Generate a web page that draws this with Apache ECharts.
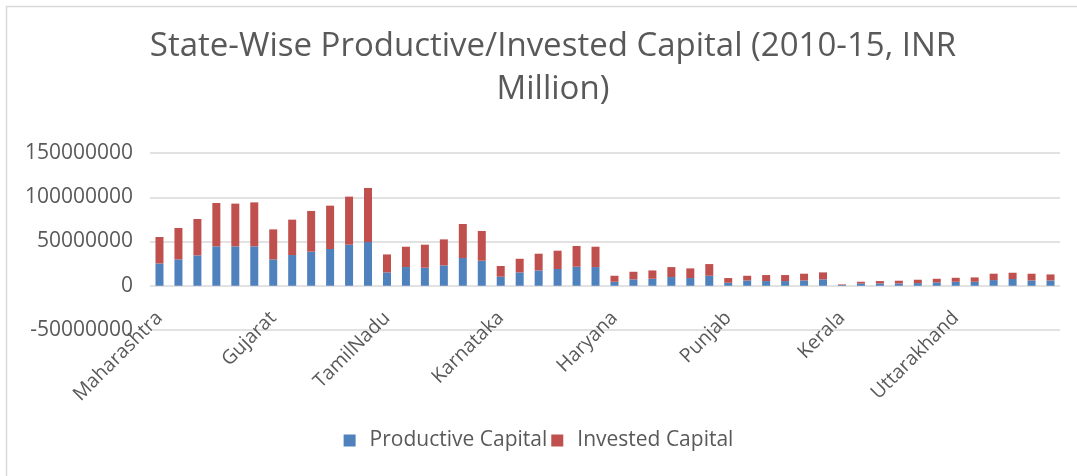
<!DOCTYPE html>
<html>
<head>
<meta charset="utf-8">
<script src="https://cdn.jsdelivr.net/npm/echarts@6/dist/echarts.min.js"></script>
<style>
html,body{margin:0;padding:0;background:#fff;}
#c{width:1077px;height:476px;}
</style>
</head>
<body>
<div id="c"></div>
<script>
const states = ["Maharashtra","Gujarat","TamilNadu","Karnataka","Haryana","Punjab","Kerala","Uttarakhand"];
const categories = [];
states.forEach(s => { for (let i = 0; i < 6; i++) categories.push(s); });

const productiveCapital = [
  25200000, 29800000, 34300000, 44500000, 44500000, 44500000,
  29800000, 34700000, 38500000, 41500000, 46400000, 49400000,
  15100000, 21100000, 20400000, 23000000, 31300000, 28300000,
  10200000, 15100000, 17300000, 18900000, 21500000, 21100000,
  4500000, 7200000, 7900000, 9800000, 8700000, 11300000,
  3400000, 6000000, 5300000, 5300000, 6000000, 7200000,
  800000, 2600000, 2600000, 2600000, 3000000, 3800000,
  4500000, 4500000, 6400000, 7600000, 6000000, 6000000
];
const investedCapital = [
  29900000, 35500000, 41100000, 49000000, 48300000, 49700000,
  33900000, 40000000, 46000000, 49000000, 54300000, 61100000,
  20300000, 23000000, 26000000, 29400000, 38500000, 33600000,
  12100000, 15400000, 18900000, 20700000, 23400000, 23000000,
  6800000, 8600000, 9400000, 11300000, 10900000, 13200000,
  5300000, 5300000, 6800000, 6800000, 7600000, 7900000,
  700000, 1900000, 2700000, 3100000, 3800000, 4100000,
  4500000, 4900000, 7200000, 7100000, 7600000, 6800000
];
const yTicks = { min: -50000000, max: 150000000, interval: 50000000 };

const chart = echarts.init(document.getElementById('c'), null, {renderer: 'canvas'});
const font = '"Open Sans", "Liberation Sans", sans-serif';
chart.setOption({
  animation: false,
  backgroundColor: '#ffffff',
  title: {
    text: 'State-Wise Productive/Invested Capital (2010-15, INR\nMillion)',
    left: 548,
    top: 20,
    textAlign: 'center',
    textStyle: { fontFamily: font, fontSize: 33, fontWeight: 'normal', color: '#595959', lineHeight: 43 }
  },
  graphic: [{
    type: 'rect', silent: true,
    shape: { x: 6.5, y: 6.5, width: 1200, height: 600 },
    style: { fill: 'none', stroke: '#d9d9d9', lineWidth: 1.5 }
  }],
  legend: {
    bottom: 20,
    left: 'center',
    itemWidth: 12, itemHeight: 12, itemGap: 4,
    icon: 'rect',
    textStyle: { fontFamily: font, fontSize: 21, color: '#595959', padding: [0, 0, 0, 9] },
    data: ['Productive Capital', 'Invested Capital']
  },
  grid: { left: 150, right: 17, top: 153, bottom: 146, containLabel: false },
  xAxis: {
    type: 'category',
    data: categories,
    axisLine: { show: false, onZero: false },
    axisTick: { show: false },
    axisLabel: {
      interval: 5, rotate: 45, margin: -15,
      fontFamily: font, fontSize: 19.5, color: '#595959'
    }
  },
  yAxis: {
    type: 'value',
    min: yTicks.min, max: yTicks.max, interval: yTicks.interval,
    axisLine: { show: false },
    axisTick: { show: false },
    splitLine: { lineStyle: { color: '#d9d9d9', width: 1.5 } },
    axisLabel: { margin: 17, fontFamily: font, fontSize: 21, color: '#595959', formatter: v => String(v) }
  },
  series: [
    { name: 'Productive Capital', type: 'bar', stack: 'cap', data: productiveCapital, barWidth: 8, itemStyle: { color: '#4F81BD' } },
    { name: 'Invested Capital', type: 'bar', stack: 'cap', data: investedCapital, barWidth: 8, itemStyle: { color: '#C0504D' } }
  ]
});
</script>
</body>
</html>
